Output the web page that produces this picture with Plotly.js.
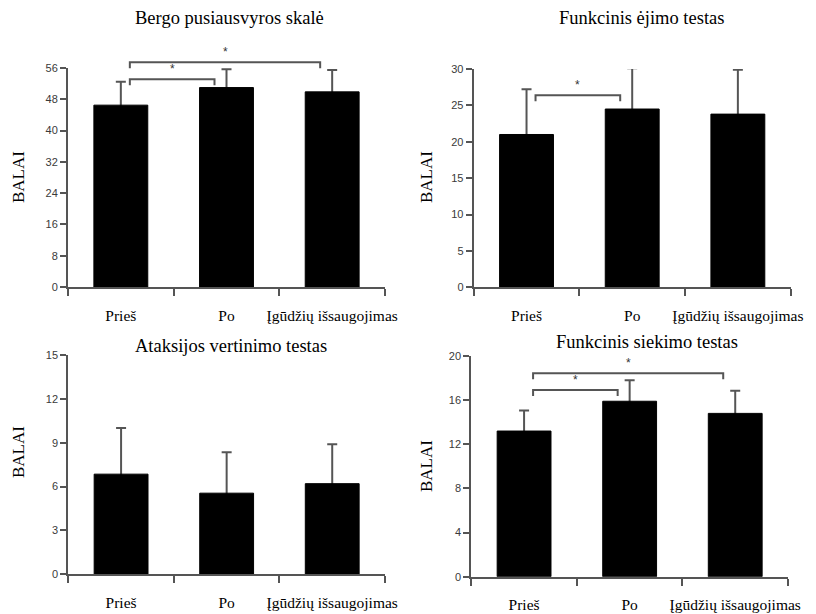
<!DOCTYPE html>
<html>
<head>
<meta charset="utf-8">
<script src="https://cdn.plot.ly/plotly-3.0.1.min.js"></script>
<style>html,body{margin:0;padding:0;background:#fff;}#chart{width:816px;height:614px;}</style>
</head>
<body>
<div id="chart"></div>
<script>
// ---- data ----
const categories = ['Prieš', 'Po', 'Įgūdžių išsaugojimas'];

const titles = ['Bergo pusiausvyros skalė', 'Funkcinis ėjimo testas', 'Ataksijos vertinimo testas', 'Funkcinis siekimo testas'];
const yAxisLabel = 'BALAI';

const bergMeans = [46.5, 51.0, 49.9];
const bergSD    = [6.0, 4.7, 5.6];

const walkMeans = [21.0, 24.5, 23.8];
const walkSD    = [6.2, 5.6, 6.1];

const ataxiaMeans = [6.85, 5.55, 6.2];
const ataxiaSD    = [3.15, 2.8, 2.7];

const reachMeans = [13.2, 15.9, 14.8];
const reachSD    = [1.85, 1.9, 2.05];

const yMax   = [56, 30, 15, 20];
const yDtick = [8, 5, 3, 4];

// significance brackets: [from category, to category, level in axis units]
const bergSig   = [[0, 1, 53.1], [0, 2, 57.45]];
const walkSig   = [[0, 1, 26.4]];
const ataxiaSig = [];
const reachSig  = [[0, 1, 16.92], [0, 2, 18.43]];

// ---- layout geometry ----
const W = 816, H = 614;
const panels = [
  {means: bergMeans,   sd: bergSD,   sig: bergSig,   px: [68, 385],      py: [68, 287],    title: [229, 18],  ylab: [18, 177]},
  {means: walkMeans,   sd: walkSD,   sig: walkSig,   px: [473.7, 790.7], py: [69, 287.3],  title: [641, 18],  ylab: [426, 177]},
  {means: ataxiaMeans, sd: ataxiaSD, sig: ataxiaSig, px: [68.3, 385],    py: [355, 574.3], title: [231, 346], ylab: [18, 452]},
  {means: reachMeans,  sd: reachSD,  sig: reachSig,  px: [471.3, 788],   py: [356, 576.7], title: [647, 342], ylab: [426, 466]}
];

const axisColor = '#555';
const serif = 'Liberation Serif, Times New Roman, serif';
const sans = 'Liberation Sans, Arial, sans-serif';

const data = [];
const layout = {
  width: W, height: H,
  margin: {l: 0, r: 0, t: 0, b: 0},
  paper_bgcolor: '#fff', plot_bgcolor: '#fff',
  showlegend: false,
  barmode: 'overlay',
  bargap: 0.49,
  shapes: [], annotations: []
};

panels.forEach((p, i) => {
  const n = i === 0 ? '' : String(i + 1);
  const xa = 'x' + n, ya = 'y' + n;
  // error bars first (underneath), then the black bars on top of them
  data.push({
    type: 'bar', x: categories, y: p.means,
    xaxis: xa, yaxis: ya, cliponaxis: false,
    marker: {color: 'rgba(0,0,0,0)', line: {width: 0}},
    error_y: {type: 'data', symmetric: true, array: p.sd,
              color: axisColor, thickness: 2, width: 5},
    hoverinfo: 'skip'
  });
  data.push({
    type: 'bar', x: categories, y: p.means,
    xaxis: xa, yaxis: ya,
    marker: {color: '#000', line: {color: '#000', width: 1}},
    hoverinfo: 'skip'
  });
  layout['xaxis' + n] = {
    domain: [p.px[0] / W, p.px[1] / W],
    anchor: ya, type: 'category', range: [-0.5, 2.5],
    showline: true, linecolor: axisColor, linewidth: 2,
    ticks: 'outside', tickson: 'boundaries', ticklen: 7, tickwidth: 2, tickcolor: axisColor,
    tickangle: 0, ticklabelstandoff: 13,
    tickfont: {family: serif, size: 15.5, color: '#000'},
    showgrid: false, zeroline: false, fixedrange: true
  };
  layout['yaxis' + n] = {
    domain: [1 - p.py[1] / H, 1 - p.py[0] / H],
    anchor: xa, range: [0, yMax[i]], dtick: yDtick[i], tick0: 0,
    showline: true, linecolor: axisColor, linewidth: 2,
    ticks: 'outside', ticklen: 6, tickwidth: 2, tickcolor: axisColor,
    tickfont: {family: sans, size: 11, color: '#3a3a3a'},
    showgrid: false, zeroline: false, fixedrange: true
  };
  // titles
  layout.annotations.push({
    xref: 'paper', yref: 'paper', x: p.title[0] / W, y: 1 - p.title[1] / H,
    xanchor: 'center', yanchor: 'middle', showarrow: false,
    text: titles[i], font: {family: serif, size: 18.5, color: '#000'}
  });
  layout.annotations.push({
    xref: 'paper', yref: 'paper', x: p.ylab[0] / W, y: 1 - p.ylab[1] / H,
    xanchor: 'center', yanchor: 'middle', showarrow: false, textangle: -90,
    text: yAxisLabel, font: {family: serif, size: 17, color: '#000'}
  });
  // significance brackets
  const wPx = p.px[1] - p.px[0], hPx = p.py[1] - p.py[0];
  p.sig.forEach(s => {
    const x0 = (s[0] + 0.5) / 3 + 9 / wPx;
    const x1 = (s[1] + 0.5) / 3 - 12 / wPx;
    const yTop = s[2] / yMax[i];
    const yLow = yTop - 6 / hPx;
    layout.shapes.push({
      type: 'path', xref: xa + ' domain', yref: ya + ' domain',
      path: `M ${x0} ${yLow} L ${x0} ${yTop} L ${x1} ${yTop} L ${x1} ${yLow}`,
      line: {color: axisColor, width: 2}
    });
    layout.annotations.push({
      xref: xa + ' domain', yref: ya + ' domain',
      x: (x0 + x1) / 2, y: yTop + 1 / hPx, xanchor: 'center', yanchor: 'bottom',
      showarrow: false, text: '*', font: {family: sans, size: 12, color: '#333'}
    });
  });
});

Plotly.newPlot('chart', data, layout, {staticPlot: true, displayModeBar: false});
</script>
</body>
</html>
